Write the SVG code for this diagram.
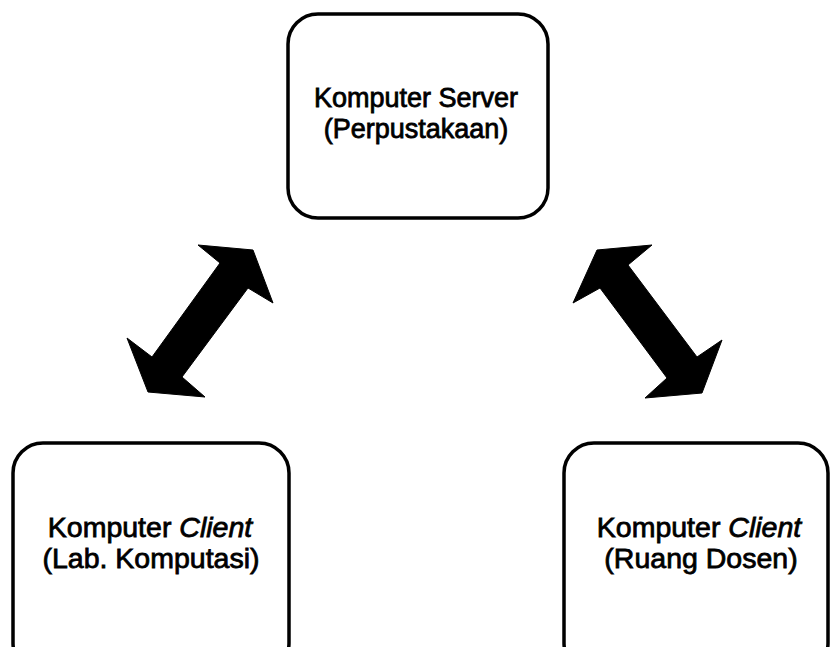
<svg xmlns="http://www.w3.org/2000/svg" width="830" height="647" viewBox="0 0 830 647">
<style>
.box{fill:#fff;stroke:#000;stroke-width:3.5}
.t{font-family:"Liberation Sans",Arial,sans-serif;font-size:27px;fill:#000;stroke:#000;stroke-width:0.8;text-anchor:middle}
.c{font-size:28.5px}
.arrow{fill:#000;stroke:#000;stroke-width:1;stroke-linejoin:round}
</style>
<rect width="830" height="647" fill="#fff"/>
<g id="server">
<rect class="box" x="288" y="14" width="260" height="204" rx="30" ry="30"/>
<text class="t" x="416" y="107">Komputer Server</text>
<text class="t" x="416" y="138">(Perpustakaan)</text>
</g>
<g id="client-lab">
<rect class="box" x="13" y="443" width="276" height="230" rx="30" ry="30"/>
<text class="t c" x="150" y="537">Komputer <tspan font-style="italic">Client</tspan></text>
<text class="t c" x="151" y="568">(Lab. Komputasi)</text>
</g>
<g id="client-dosen">
<rect class="box" x="564" y="443" width="264" height="230" rx="30" ry="30"/>
<text class="t c" x="699" y="537">Komputer <tspan font-style="italic">Client</tspan></text>
<text class="t c" x="701" y="568">(Ruang Dosen)</text>
</g>
<g id="connectors">
<polygon class="arrow" points="253,250 273,303 248,288 182,377 205,397 148,392 127,338 152,357 220,263 198,245"/>
<polygon class="arrow" points="597,250 652,245 628,265 697,357 722,340 702,393 645,398 667,378 600,288 573,303"/>
</g>
</svg>
